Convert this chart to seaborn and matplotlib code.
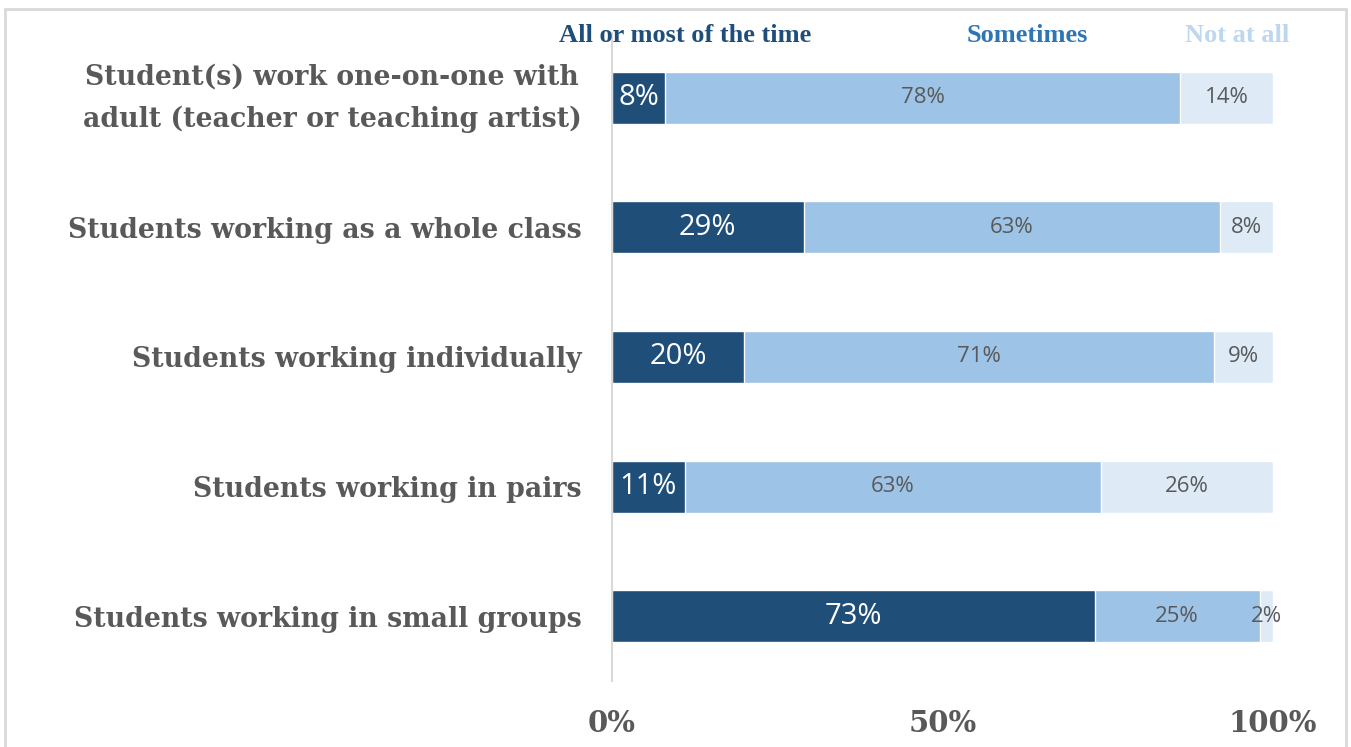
import matplotlib
matplotlib.use("Agg")
import matplotlib.pyplot as plt
from matplotlib.patches import Rectangle
from matplotlib.transforms import ScaledTranslation
import numpy as np
import pandas as pd
import seaborn as sns

# Survey responses: share of teachers reporting each grouping practice
categories = [
    "Student(s) work one-on-one with\nadult (teacher or teaching artist)",
    "Students working as a whole class",
    "Students working individually",
    "Students working in pairs",
    "Students working in small groups",
]
all_or_most = [8, 29, 20, 11, 73]
sometimes = [78, 63, 71, 63, 25]
not_at_all = [14, 8, 9, 26, 2]

series_names = ["All or most of the time", "Sometimes", "Not at all"]
bar_colors = ["#1F4E79", "#9DC3E6", "#DEEBF7"]
legend_colors = ["#1F4E79", "#2E75B6", "#BDD7EE"]
tick_values = [0, 50, 100]
tick_labels = ["0%", "50%", "100%"]

sns.set_theme(style="white")
plt.rcParams["font.family"] = ["DejaVu Serif"]

df = pd.DataFrame({
    "category": categories,
    series_names[0]: all_or_most,
    series_names[1]: sometimes,
    series_names[2]: not_at_all,
})
cum = df[series_names].cumsum(axis=1)

fig = plt.figure(figsize=(13.51, 7.47), dpi=100)
ax = fig.add_axes([612 / 1351, 1 - 681 / 747, 661 / 1351, 648 / 747])

# Stacked bars: draw cumulative totals from the back to the front
for name, color in reversed(list(zip(series_names, bar_colors))):
    sns.barplot(data=cum.assign(category=df["category"]), x=name, y="category",
                orient="h", color=color, width=0.4, ax=ax, saturation=1)

# Segment labels centred in each segment
for i in range(len(categories)):
    start = 0
    for k, name in enumerate(series_names):
        v = df[name].iloc[i]
        center = start + v / 2
        if k == 0:
            ax.text(center, i, f"{v}%", ha="center", va="center", color="white",
                    fontsize=21, family="Open Sans")
        else:
            ax.text(center, i, f"{v}%", ha="center", va="center", color="#595959",
                    fontsize=16, family="Open Sans")
        start += v

ax.set_xlim(0, 100)
ax.set_ylim(4.5, -0.5)
ax.set_xlabel("")
ax.set_ylabel("")
ax.set_xticks(tick_values)
ax.set_xticklabels(tick_labels, fontsize=21, fontweight="bold", color="#595959")
ax.tick_params(axis="x", length=0, pad=20)
ax.tick_params(axis="y", length=0, pad=22)
ax.set_yticks(range(len(categories)))
ax.set_yticklabels(categories, fontsize=19.3, fontweight="bold", color="#595959")
for lab in ax.get_yticklabels():
    lab.set_multialignment("center")
    lab.set_linespacing(1.7)
# Lift the two-line label so its block sits centred on the bar
first = ax.get_yticklabels()[0]
first.set_transform(first.get_transform() + ScaledTranslation(0, 7 / 72, fig.dpi_scale_trans))

for side in ["top", "right", "bottom"]:
    ax.spines[side].set_visible(False)
ax.spines["left"].set_color("#D9D9D9")
ax.spines["left"].set_linewidth(1.5)

# Legend row along the top
legend_x = [685, 1027, 1237]
for name, color, x in zip(series_names, legend_colors, legend_x):
    fig.text(x / 1351, 1 - 35 / 747, name, ha="center", va="center",
             color=color, fontsize=19, fontweight="bold", family="Liberation Serif")

# Light frame around the chart area
fig.patches.append(Rectangle((5 / 1351, -0.05), 1341 / 1351, 1.05 - 9 / 747,
                             transform=fig.transFigure, fill=False,
                             edgecolor="#D9D9D9", linewidth=2))

fig.savefig("out.png", dpi=100)
